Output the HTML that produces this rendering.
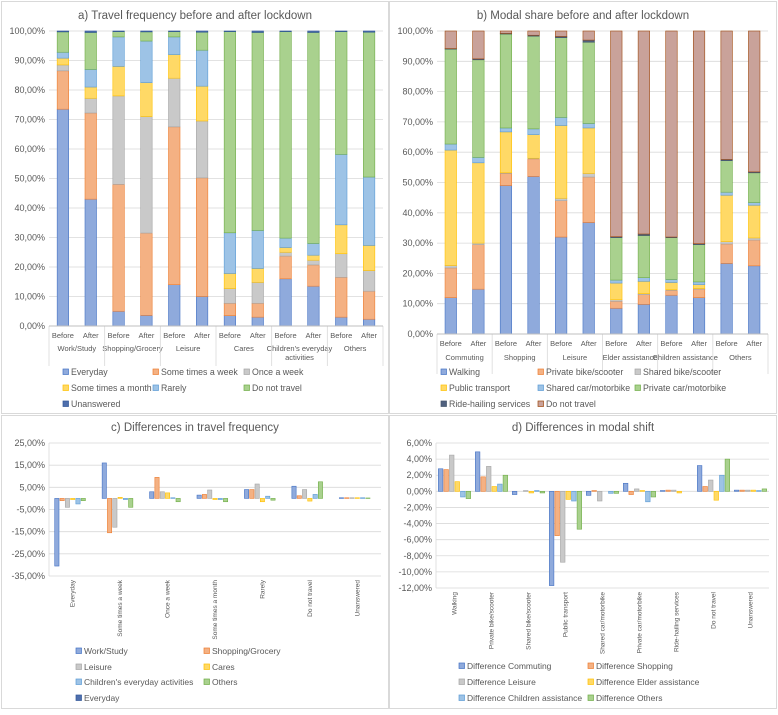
<!DOCTYPE html>
<html><head><meta charset="utf-8">
<style>
body{margin:0;background:#fff;font-family:"Liberation Sans",sans-serif;}
svg text{font-family:"Liberation Sans",sans-serif;fill:#595959;}
</style></head>
<body>
<svg id="s" width="778" height="710" viewBox="0 0 778 710" xmlns="http://www.w3.org/2000/svg">
<rect x="0" y="0" width="778" height="710" fill="#fff"/>
<rect x="1.5" y="1.5" width="387" height="412" fill="none" stroke="#d9d9d9"/>
<rect x="389.5" y="1.5" width="387" height="412" fill="none" stroke="#d9d9d9"/>
<rect x="1.5" y="415.5" width="387" height="293" fill="none" stroke="#d9d9d9"/>
<rect x="389.5" y="415.5" width="387" height="293" fill="none" stroke="#d9d9d9"/>
<text x="195" y="19" text-anchor="middle" font-size="11.5">a) Travel frequency before and after lockdown</text>
<text x="583" y="19" text-anchor="middle" font-size="11.5">b) Modal share before and after lockdown</text>
<text x="195" y="431" text-anchor="middle" font-size="11.5">c) Differences in travel frequency</text>
<text x="583" y="431" text-anchor="middle" font-size="11.5">d) Differences in modal shift</text>
</svg>
<script>
// ---- Panel a data ----
const aGroups = ["Work/Study","Shopping/Grocery","Leisure","Cares","Children's everyday|activities","Others"];
const aSeries = ["Everyday","Some times a week","Once a week","Some times a month","Rarely","Do not travel","Unanswered"];
const aBefore = [
 [73.5,13,2,2.3,2,6.9,0.3],[5,43,30,10,10,1.8,0.2],[14,53.5,16.5,8,6,1.8,0.2],
 [3.5,4.2,5,5.1,13.8,68.2,0.2],[16,7.7,1.3,1.6,3.2,70,0.2],[3,13.5,8,9.8,23.9,41.6,0.2]];
const aAfter = [
 [43,29.2,5,3.8,6,12.5,0.5],[3.6,27.9,39.5,11.5,14.1,3.1,0.3],[10,40.2,19.3,11.8,12.2,6.1,0.4],
 [3,4.7,7.1,4.7,12.9,67.1,0.5],[13.5,7.2,1.6,1.7,4,71.5,0.5],[2.3,9.5,7,8.5,23.2,49.1,0.4]];
// ---- Panel b data ----
const bGroups = ["Commuting","Shopping","Leisure","Elder assistance","Children assistance","Others"];
const bSeries = ["Walking","Private bike/scooter","Shared bike/scooter","Public transport","Shared car/motorbike","Private car/motorbike","Ride-hailing services","Do not travel"];
const bBefore = [
 [12,9.8,0.8,38.1,2,31.3,0.2,5.8],[49,4,0.2,13.5,1.3,31,0.2,0.8],[32,12,0.8,24,2.7,26.3,0.4,1.8],
 [8.5,2.3,0.5,5.5,1,14,0.3,67.9],[12.8,1.6,0.2,2.4,1,13.8,0.2,68],[23.3,6.4,0.8,15.3,1,10.4,0.4,42.4]];
const bAfter = [
 [14.8,14.7,0.5,26.5,1.8,32.2,0.3,9.2],[52,5.8,0.2,7.8,1.9,30.6,0.3,1.4],[36.8,15,1.2,15,1.5,26.8,0.7,3],
 [9.8,3.2,0.3,4.1,1.2,13.9,0.5,67],[12,2.8,0.2,1.3,0.9,12.3,0.3,70.2],[22.5,8.5,0.7,10.8,0.9,9.8,0.3,46.5]];
// ---- Panel c data ----
const cCats = ["Everyday","Some times a week","Once a week","Some times a month","Rarely","Do not travel","Unanswered"];
const cSeries = ["Work/Study","Shopping/Grocery","Leisure","Cares","Children's everyday activities","Others","Everyday"];
const cWork = [-30.5,16,3,1.5,4,5.5,0.3];
const cShop = [-1,-15.5,9.5,1.8,4,1.2,0.3];
const cLeis = [-4,-13,3,3.8,6.5,4,0.3];
const cCares = [-0.5,0.5,2.5,-0.5,-1.5,-1.2,0.3];
const cChild = [-2.5,-0.5,0.3,-0.5,1,1.8,0.3];
const cOth = [-1,-4,-1.5,-1.5,-0.8,7.5,0.2];
const cEvery = [0,0,0,0,0,0,0];
const cTicks = [25,15,5,-5,-15,-25,-35];
// ---- Panel d data ----
const dCats = ["Walking","Private bike/scooter","Shared bike/scooter","Public transport","Shared car/motorbike","Private car/motorbike","Ride-hailing services","Do not travel","Unanswered"];
const dSeries = ["Difference Commuting","Difference Shopping","Difference Leisure","Difference Elder assistance","Difference Children assistance","Difference Others"];
const dComm = [2.8,4.9,-0.4,-11.7,-0.5,1,0.1,3.2,0.15];
const dShop = [2.7,1.8,0,-5.5,0.1,-0.4,0.15,0.6,0.15];
const dLeis = [4.5,3.1,0.1,-8.8,-1.2,0.3,0.15,1.4,0.15];
const dElder = [1.2,0.6,-0.2,-1,0,0.1,-0.2,-1.1,0.15];
const dChild = [-0.7,0.9,0.1,-1.2,-0.25,-1.3,0,2,0.1];
const dOth = [-0.9,2,-0.2,-4.7,-0.25,-0.7,0,4,0.3];
const dTicks = [6,4,2,0,-2,-4,-6,-8,-10,-12];

const S = document.getElementById('s');
const NS = 'http://www.w3.org/2000/svg';
function el(tag, attrs, parent){const e=document.createElementNS(NS,tag);for(const k in attrs)e.setAttribute(k,attrs[k]);(parent||S).appendChild(e);return e;}
function txt(x,y,s,size,anchor,extra){const t=el('text',Object.assign({x:x,y:y,'font-size':size,'text-anchor':anchor||'start'},extra||{}));t.textContent=s;return t;}
function fmt(v){return v.toFixed(2).replace('.',',')+'%';}

const fillA=['#8faadc','#f4b183','#c9c9c9','#ffd966','#9dc3e6','#a9d18e','#4f6fad'];
const strokeA=['#4472c4','#ed7d31','#a5a5a5','#ffc000','#5b9bd5','#70ad47','#2f5597'];
const fillB=['#8faadc','#f4b183','#c9c9c9','#ffd966','#9dc3e6','#a9d18e','#50617f','#c9a29a'];
const strokeB=['#4472c4','#ed7d31','#a5a5a5','#ffc000','#5b9bd5','#70ad47','#44546a','#9e480e'];

function stacked(px0,px1,py100,py0,groups,before,after,fills,strokes,labY,catY,prefix){
  const yS=v=>py0-(py0-py100)*v/100;
  for(let t=0;t<=100;t+=10){
    const y=yS(t);
    const g=el('line',{x1:px0,x2:px1,y1:y,y2:y,stroke:'#d9d9d9','stroke-width':0.8});
    
    
    const l=txt(px0-4,y+3,fmt(t),9,'end');
    
    
  }
  const n=groups.length*2, w=(px1-px0)/n, bw=11.5;
  groups.forEach((gname,gi)=>{
    [before[gi],after[gi]].forEach((vals,k)=>{
      const idx=gi*2+k, cx=px0+w*(idx+0.5);
      let cum=0;
      vals.forEach((v,si)=>{
        const y1=yS(cum+v), y0=yS(cum); cum+=v;
        const r=el('rect',{x:cx-bw/2,y:y1,width:bw,height:Math.max(0,y0-y1),fill:fills[si],stroke:strokes[si],'stroke-width':0.6});
        
        
      });
      const l=txt(cx,labY,k?'After':'Before',7.5,'middle');
      
      
    });
    const gx=px0+w*(gi*2+1);
    const parts=gname.split('|');
    parts.forEach((p,pi)=>{
      const l=txt(gx,catY+pi*9,p,7.5,'middle');
      
      
    });
    const sep=el('line',{x1:px0+w*gi*2,x2:px0+w*gi*2,y1:py0,y2:py0+40,stroke:'#d9d9d9','stroke-width':0.8});
    
    
  });
  const sep=el('line',{x1:px1,x2:px1,y1:py0,y2:py0+40,stroke:'#d9d9d9','stroke-width':0.8});
  
  
  const ax=el('line',{x1:px0,x2:px1,y1:py0,y2:py0,stroke:'#bfbfbf','stroke-width':1});
  
  
}
stacked(49,383,31,326,aGroups,aBefore,aAfter,fillA,strokeA,338,351,'a');
stacked(437,768,31,334,bGroups,bBefore,bAfter,fillB,strokeB,346,360,'b');

function legend(items,fills,strokes,cols,rows,size){
  items.forEach((name,i)=>{
    const r=Math.floor(i/cols.length), c=i%cols.length;
    const x=cols[c], y=rows[r];
    const m=el('rect',{x:x,y:y-6,width:5.5,height:5.5,fill:fills[i],stroke:strokes[i],'stroke-width':0.7});
    
    
    const t=txt(x+8,y,name,size||8.5,'start');
    
    
  });
}
legend(aSeries,fillA,strokeA,[63,153,244],[375,391,407],8.8);
legend(bSeries,fillB,strokeB,[441,538,635],[375,391,407],8.8);

function clustered(px0,px1,pyTop,pyBot,vmax,vmin,ticks,cats,series,fills,strokes,slotFrac,labTop,prefix){
  const yS=v=>pyTop+(vmax-v)*(pyBot-pyTop)/(vmax-vmin);
  ticks.forEach(t=>{
    const y=yS(t);
    const g=el('line',{x1:px0,x2:px1,y1:y,y2:y,stroke:'#d9d9d9','stroke-width':0.8});
    
    
    const l=txt(px0-4,y+3,fmt(t),9,'end');
    
    
  });
  const va=el('line',{x1:px0,x2:px0,y1:pyTop,y2:pyBot,stroke:'#d9d9d9','stroke-width':0.8});
  
  
  const cw=(px1-px0)/cats.length, slot=cw*slotFrac/series.length, off=(cw-slot*series.length)/2;
  cats.forEach((c,ci)=>{
    series.forEach((vals,si)=>{
      const v=vals[ci]; if(v===0) return;
      const x=px0+ci*cw+off+si*slot+0.5;
      const y0=yS(0), y1=yS(v);
      const r=el('rect',{x:x,y:Math.min(y0,y1),width:slot-1,height:Math.abs(y1-y0),fill:fills[si],stroke:strokes[si],'stroke-width':0.6});
      
      
    });
    const lx=px0+(ci+0.5)*cw;
    const l=txt(lx+2,labTop,c,6.5,'end',{transform:'rotate(-90 '+(lx+2)+' '+labTop+')'});
    
    
  });
}
clustered(49,381,443,576,25,-35,cTicks,cCats,[cWork,cShop,cLeis,cCares,cChild,cOth,cEvery],fillA,strokeA,0.78,580,'c');
legend(cSeries,fillA,strokeA,[76,204],[654,670,685,701],8.5);

clustered(436,769,443,588,6,-12,dTicks,dCats,[dComm,dShop,dLeis,dElder,dChild,dOth],fillA,strokeA,0.9,592,'d');
legend(dSeries,fillA,strokeA,[459,588],[669,685,701],8.5);
</script>
</body></html>
